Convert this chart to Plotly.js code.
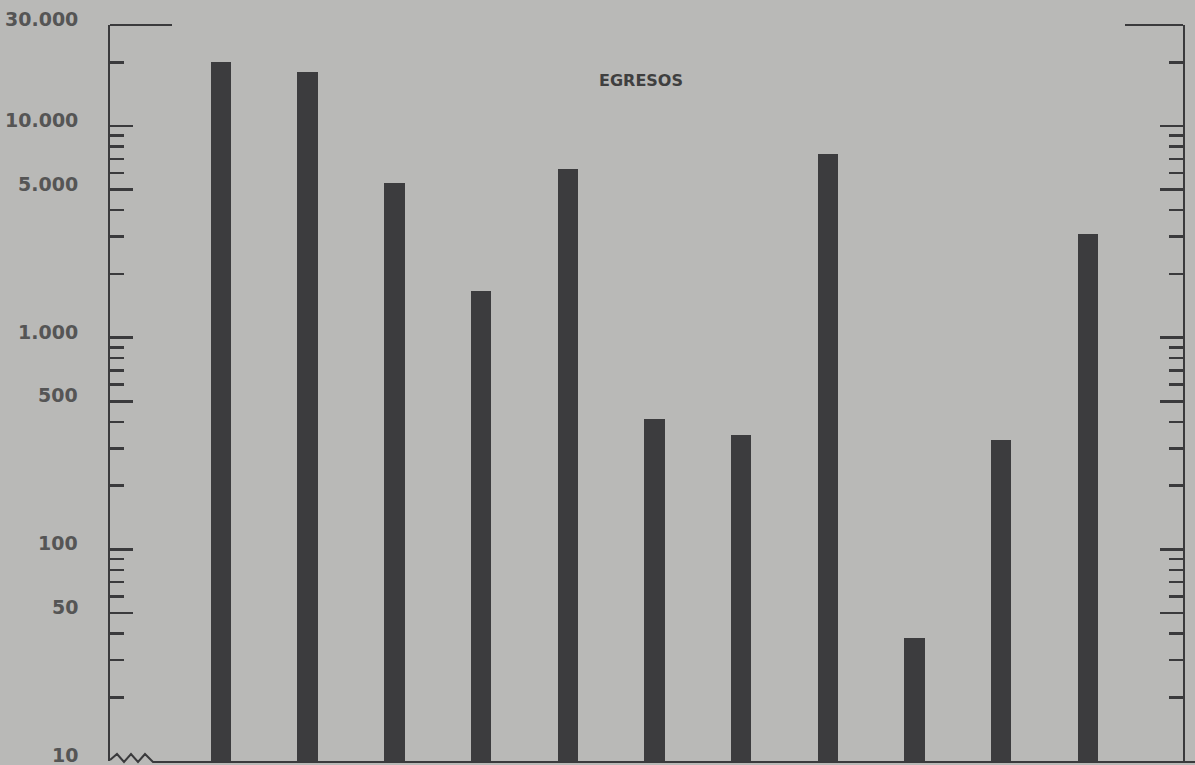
<!DOCTYPE html>
<html>
<head>
<meta charset="utf-8">
<script src="https://cdn.plot.ly/plotly-3.0.1.min.js"></script>
<style>
  html, body { margin: 0; padding: 0; background: #b9b9b7; }
  #chart { width: 1195px; height: 765px; }
</style>
</head>
<body>
<div id="chart"></div>
<script>
// Data (log scale, 11 bars, no category labels shown)
const categories = ["1", "2", "3", "4", "5", "6", "7", "8", "9", "10", "11"];
const egresos = [20000, 18000, 5350, 1670, 6250, 415, 345, 7400, 38, 330, 3100];

// Axis labels (Spanish thousands separator)
const labelValues = [10, 50, 100, 500, 1000, 5000, 10000, 30000];
const labelTexts = ["10", "50", "100", "500", "1.000", "5.000", "10.000", "30.000"];
const majorTicks = [50, 100, 500, 1000, 5000, 10000];
const minorTicks = [20, 30, 40, 60, 70, 80, 90,
                    200, 300, 400, 600, 700, 800, 900,
                    2000, 3000, 4000, 6000, 7000, 8000, 9000, 20000];

const ink = "#3a3a3c";
const bg = "#b9b9b7";

const trace = {
  type: "bar",
  x: categories,
  y: egresos,
  width: 0.235,
  marker: { color: "#3c3c3e", line: { width: 0 } },
  hoverinfo: "skip"
};

const annotations = labelValues.map((v, i) => ({
  xref: "paper", yref: "y",
  x: -0.028, y: Math.log10(v),
  xanchor: "right", yanchor: "middle",
  yshift: 6,
  text: "<b>" + labelTexts[i] + "</b>",
  showarrow: false,
  font: { family: "DejaVu Sans", size: 19, color: "#555555" }
}));
annotations.push({
  xref: "paper", yref: "paper",
  x: 0.495, y: 0.925,
  xanchor: "center", yanchor: "middle",
  text: "<b>EGRESOS</b>",
  showarrow: false,
  font: { family: "DejaVu Sans", size: 16, color: "#3f3f3f" }
});

// plot area: x 110..1183 px, y 25..761 px
const W = 1073, H = 736;
const px = x => (x - 110) / W;
const py = y => (761 - y) / H;
const zig = [[110, 760], [117, 754], [124, 762], [131, 754], [138, 762], [145, 754], [153, 762], [1195, 762]];
const zigPath = "M " + zig.map(p => px(p[0]).toFixed(5) + "," + py(p[1]).toFixed(5)).join(" L ");

const shapes = [
  { type: "path", xref: "paper", yref: "paper", path: zigPath, line: { color: ink, width: 2 } },
  { type: "line", xref: "paper", yref: "paper", x0: 0, x1: px(172), y0: 1, y1: 1, line: { color: ink, width: 2 } },
  { type: "line", xref: "paper", yref: "paper", x0: px(1125), x1: 1, y0: 1, y1: 1, line: { color: ink, width: 2 } }
];

const layout = {
  width: 1195, height: 765,
  margin: { l: 110, r: 12, t: 25, b: 4, pad: 0 },
  paper_bgcolor: bg,
  plot_bgcolor: bg,
  showlegend: false,
  bargap: 0,
  xaxis: {
    type: "category",
    range: [-1.28, 11.096],
    showticklabels: false,
    ticks: "",
    showgrid: false,
    zeroline: false,
    showline: false,
    fixedrange: true
  },
  yaxis: {
    type: "log",
    range: [1, Math.log10(30000)],
    tickmode: "array",
    tickvals: majorTicks,
    showticklabels: false,
    ticks: "inside",
    ticklen: 23,
    tickwidth: 2.5,
    tickcolor: ink,
    minor: {
      tickmode: "array",
      tickvals: minorTicks,
      ticks: "inside",
      ticklen: 14,
      tickwidth: 2.5,
      tickcolor: ink,
      showgrid: false
    },
    showline: true,
    linecolor: ink,
    linewidth: 2,
    mirror: "ticks",
    showgrid: false,
    zeroline: false,
    fixedrange: true
  },
  annotations: annotations,
  shapes: shapes
};

Plotly.newPlot("chart", [trace], layout, { displayModeBar: false, staticPlot: true });
</script>
</body>
</html>
